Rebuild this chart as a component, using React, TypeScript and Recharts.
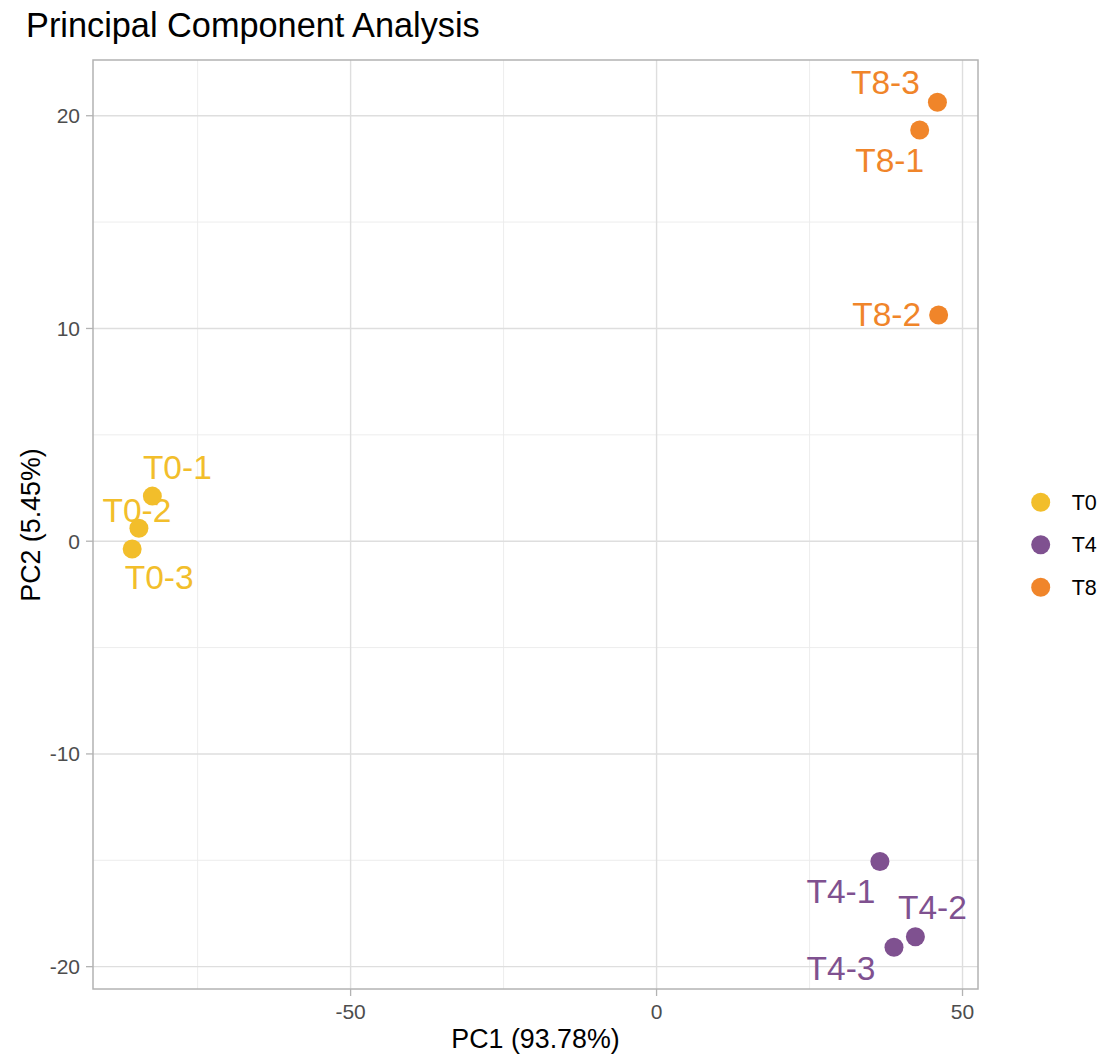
import { CartesianGrid, Scatter, ScatterChart, XAxis, YAxis } from "recharts";

type Sample = { name: string; pc1: number; pc2: number };

const groups = ["T0", "T4", "T8"];
const groupColors: Record<string, string> = {
  T0: "#F2BE2B",
  T4: "#7F5190",
  T8: "#F0852A",
};

const t0Samples: Sample[] = [
  { name: "T0-1", pc1: -82.4, pc2: 2.12 },
  { name: "T0-2", pc1: -84.6, pc2: 0.61 },
  { name: "T0-3", pc1: -85.7, pc2: -0.37 },
];
const t4Samples: Sample[] = [
  { name: "T4-1", pc1: 36.5, pc2: -15.06 },
  { name: "T4-2", pc1: 42.3, pc2: -18.59 },
  { name: "T4-3", pc1: 38.8, pc2: -19.09 },
];
const t8Samples: Sample[] = [
  { name: "T8-1", pc1: 43.0, pc2: 19.33 },
  { name: "T8-2", pc1: 46.1, pc2: 10.63 },
  { name: "T8-3", pc1: 45.9, pc2: 20.63 },
];

const xTicks = [-50, 0, 50];
const yTicks = [-20, -10, 0, 10, 20];
const xMinor = [-75, -25, 25];
const yMinor = [-15, -5, 5, 15];

// repel-style label nudges in px (label centre x, baseline y relative to point)
const labelNudge: Record<string, [number, number]> = {
  "T0-1": [25, -17],
  "T0-2": [-2, -6],
  "T0-3": [27, 40],
  "T4-1": [-39, 41],
  "T4-2": [17, -18],
  "T4-3": [-53, 33],
  "T8-1": [-30, 42],
  "T8-2": [-52, 11],
  "T8-3": [-52, -8],
};

const FONT = "'Liberation Sans', Arial, Helvetica, sans-serif";
const W = 1101;
const H = 1055;
const plot = { left: 93, top: 60, right: 978, bottom: 989 };

function makeShape(color: string) {
  return (props: any) => {
    const { cx, cy, payload } = props;
    const [dx, dy] = labelNudge[payload.name] ?? [0, 0];
    return (
      <g>
        <circle cx={cx} cy={cy} r={9.5} fill={color} />
        <text
          x={cx + dx}
          y={cy + dy}
          textAnchor="middle"
          fontSize={33.5}
          fontFamily={FONT}
          fill={color}
        >
          {payload.name}
        </text>
      </g>
    );
  };
}

const tickStyle = { fontSize: 21, fill: "#4D4D4D", fontFamily: FONT };

export default function App() {
  const seriesData: Record<string, Sample[]> = { T0: t0Samples, T4: t4Samples, T8: t8Samples };

  return (
    <div style={{ position: "absolute", left: 0, top: 0, width: W, height: H, background: "#fff" }}>
      <ScatterChart
        width={W}
        height={H}
        margin={{ top: plot.top, right: W - plot.right, bottom: 16, left: 13 }}
      >
        <CartesianGrid
          verticalValues={xMinor}
          horizontalValues={yMinor}
          stroke="#EBEBEB"
          strokeWidth={0.9}
        />
        <CartesianGrid
          verticalValues={xTicks}
          horizontalValues={yTicks}
          stroke="#DEDEDE"
          strokeWidth={1.4}
        />
        <XAxis
          type="number"
          dataKey="pc1"
          domain={[-92.1, 52.53]}
          ticks={xTicks}
          allowDataOverflow
          height={50}
          axisLine={false}
          tickSize={7}
          tickMargin={8}
          tickLine={{ stroke: "#B3B3B3", strokeWidth: 1.3 }}
          tick={tickStyle}
        />
        <YAxis
          type="number"
          dataKey="pc2"
          domain={[-21.05, 22.62]}
          ticks={yTicks}
          allowDataOverflow
          width={80}
          axisLine={false}
          tickSize={7}
          tickMargin={6}
          tickLine={{ stroke: "#B3B3B3", strokeWidth: 1.3 }}
          tick={tickStyle}
        />
        {groups.map((g) => (
          <Scatter
            key={g}
            name={g}
            data={seriesData[g]}
            fill={groupColors[g]}
            shape={makeShape(groupColors[g])}
            isAnimationActive={false}
          />
        ))}
      </ScatterChart>
      <svg
        width={W}
        height={H}
        style={{ position: "absolute", left: 0, top: 0, pointerEvents: "none" }}
      >
        <rect
          x={plot.left}
          y={plot.top}
          width={plot.right - plot.left}
          height={plot.bottom - plot.top}
          fill="none"
          stroke="#B3B3B3"
          strokeWidth={1.5}
        />
        <text x={26} y={37} fontSize={34.3} fontFamily={FONT} fill="#000">
          Principal Component Analysis
        </text>
        <text
          x={(plot.left + plot.right) / 2}
          y={1048}
          textAnchor="middle"
          fontSize={26.8}
          fontFamily={FONT}
          fill="#000"
        >
          PC1 (93.78%)
        </text>
        <text
          x={40}
          y={525}
          transform="rotate(-90 40 525)"
          textAnchor="middle"
          fontSize={26.8}
          fontFamily={FONT}
          fill="#000"
        >
          PC2 (5.45%)
        </text>
        {groups.map((g, i) => (
          <g key={g}>
            <circle cx={1040.7} cy={502.3 + i * 42.5} r={9.5} fill={groupColors[g]} />
            <text x={1071.7} y={502.3 + i * 42.5 + 7.5} fontSize={21.5} fontFamily={FONT} fill="#000">
              {g}
            </text>
          </g>
        ))}
      </svg>
    </div>
  );
}
